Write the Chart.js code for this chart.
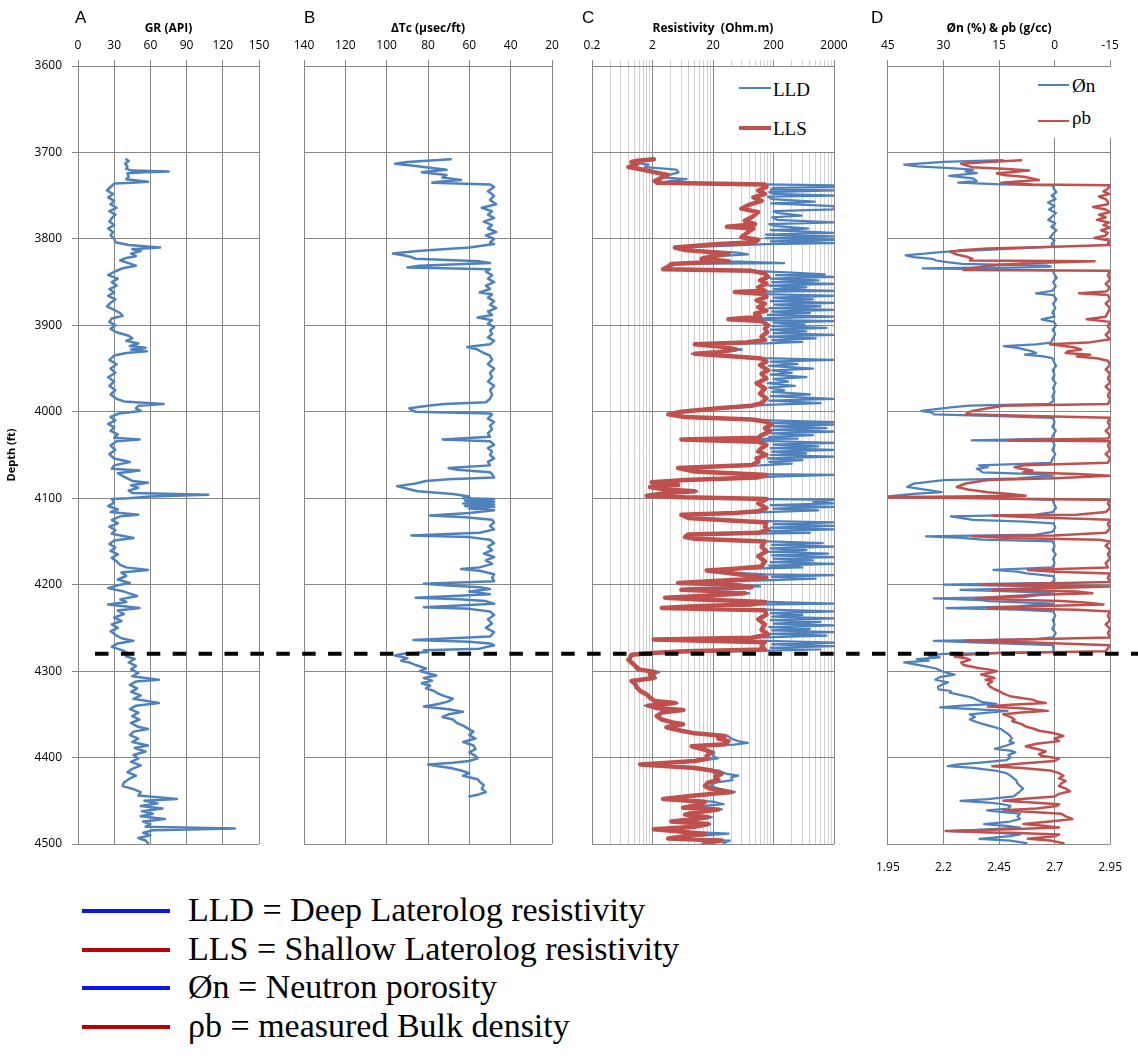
<!DOCTYPE html>
<html><head><meta charset="utf-8"><title>Well logs</title>
<script src="https://cdn.jsdelivr.net/npm/chart.js@4.4.0/dist/chart.umd.min.js"></script>
<style>
html,body{margin:0;padding:0;background:#fff}
#wrap{position:relative;width:1138px;height:1061px;overflow:hidden;background:#fff}
canvas{position:absolute;top:0}
.letter{position:absolute;top:9px;font-family:'Liberation Sans',Arial,sans-serif;font-size:17px;line-height:17px;color:#000}
.lg{position:absolute;background:#fff}
.sw{position:absolute}
.lt{position:absolute;font-family:'Liberation Serif','DejaVu Serif',serif;font-size:19px;line-height:19px;color:#000;white-space:nowrap}
.kl{position:absolute;left:82px;width:88px;height:4px}
.kt{position:absolute;left:188px;font-family:'Liberation Serif','DejaVu Serif',serif;font-size:34px;line-height:34px;color:#000;white-space:nowrap}
</style></head>
<body><div id="wrap">
<canvas id="cA" width="280" height="880" style="left:0px"></canvas>
<canvas id="cB" width="290" height="880" style="left:280px"></canvas>
<canvas id="cC" width="290" height="880" style="left:570px"></canvas>
<canvas id="cD" width="278" height="880" style="left:860px"></canvas>

<div class="letter" style="left:75px">A</div>
<div class="letter" style="left:304px">B</div>
<div class="letter" style="left:582px">C</div>
<div class="letter" style="left:871px">D</div>

<div class="lg" style="left:718px;top:67px;width:116px;height:85px"></div>
<div class="sw" style="left:739px;top:87px;width:32px;height:2px;background:#4f81bd"></div>
<div class="lt" style="left:773px;top:80px">LLD</div>
<div class="sw" style="left:739px;top:126px;width:32px;height:4px;background:#c0504d"></div>
<div class="lt" style="left:773px;top:119px">LLS</div>

<div class="lg" style="left:1025px;top:67px;width:97px;height:71px"></div>
<div class="sw" style="left:1038px;top:84px;width:31px;height:2px;background:#4f81bd"></div>
<div class="lt" style="left:1072px;top:76px">Øn</div>
<div class="sw" style="left:1038px;top:120px;width:31px;height:2px;background:#c0504d"></div>
<div class="lt" style="left:1072px;top:108px">ρb</div>

<div class="kl" style="top:909px;background:#0a14f5"></div>
<div class="kt" style="top:893px">LLD = Deep Laterolog resistivity</div>
<div class="kl" style="top:948px;background:#c00000"></div>
<div class="kt" style="top:932px">LLS = Shallow Laterolog resistivity</div>
<div class="kl" style="top:986px;background:#0a14f5"></div>
<div class="kt" style="top:970px">Øn = Neutron porosity</div>
<div class="kl" style="top:1025px;background:#c00000"></div>
<div class="kt" style="top:1009px">ρb = measured Bulk density</div>
</div>
<script>
// ---------- axis ticks ----------
const DEPTH_TICKS = [3600,3700,3800,3900,4000,4100,4200,4300,4400,4500];
const GR_TICKS = [0,30,60,90,120,150];
const DT_TICKS = [140,120,100,80,60,40,20];
const RES_LABELS = [0.2,2,20,200,2000];
const RES_MINOR = [0.4,0.6,0.8,1,1.2,1.4,1.6,1.8,4,6,8,10,12,14,16,18,40,60,80,100,120,140,160,180,400,600,800,1000,1200,1400,1600,1800];
const NPHI_TICKS = [45,30,15,0,-15];
const RHOB_TICKS = [1.95,2.2,2.45,2.7,2.95];
const CUT_DEPTH = 4280;

// ---------- series: [depth ft, value] ----------
const GR = [[3708,40],[3710,42],[3713,39],[3716,41],[3719,40],[3721,45],[3722,75],[3723,55],[3724,41],[3728,42],[3731,40],[3734,58],[3735,45],[3736,30],[3740,27],[3744,24],[3748,29],[3752,25],[3756,30],[3760,27],[3764,32],[3768,26],[3772,31],[3776,28],[3780,26],[3784,30],[3788,25],[3792,29],[3796,27],[3800,30],[3804,31],[3807,42],[3810,68],[3812,45],[3814,52],[3817,44],[3820,48],[3822,40],[3825,35],[3828,42],[3831,48],[3834,37],[3838,30],[3842,25],[3846,33],[3850,28],[3854,32],[3858,26],[3862,30],[3866,25],[3870,31],[3874,27],[3878,24],[3882,30],[3886,35],[3889,37],[3892,28],[3896,26],[3900,31],[3904,27],[3908,32],[3912,42],[3915,45],[3918,40],[3921,50],[3924,43],[3926,56],[3928,44],[3930,57],[3932,40],[3935,30],[3940,26],[3945,32],[3950,27],[3955,31],[3960,25],[3965,30],[3970,26],[3975,31],[3980,27],[3985,32],[3988,38],[3991,71],[3993,50],[3996,48],[3999,52],[4002,34],[4006,27],[4010,31],[4014,25],[4018,30],[4022,27],[4026,33],[4030,30],[4032,51],[4034,32],[4039,27],[4044,31],[4049,26],[4054,30],[4058,43],[4062,30],[4066,28],[4068,51],[4071,33],[4075,38],[4080,45],[4082,58],[4085,44],[4088,50],[4091,42],[4094,45],[4096,108],[4098,60],[4100,42],[4101,28],[4105,30],[4109,25],[4113,33],[4116,27],[4119,50],[4121,35],[4125,28],[4129,33],[4133,26],[4137,31],[4141,28],[4146,46],[4149,30],[4153,26],[4157,31],[4161,27],[4165,33],[4169,28],[4173,32],[4177,35],[4180,40],[4183,58],[4186,36],[4190,40],[4194,33],[4198,43],[4200,35],[4204,25],[4208,38],[4213,49],[4217,35],[4220,40],[4223,25],[4227,51],[4230,33],[4234,38],[4238,30],[4242,36],[4246,28],[4250,33],[4254,27],[4258,31],[4262,36],[4265,46],[4268,33],[4272,28],[4276,37],[4280,42],[4283,40],[4286,47],[4290,42],[4294,48],[4298,44],[4302,50],[4306,45],[4310,67],[4312,48],[4316,43],[4320,49],[4324,44],[4328,52],[4332,46],[4337,67],[4340,48],[4344,43],[4348,50],[4352,45],[4356,51],[4360,44],[4364,49],[4367,58],[4370,46],[4374,43],[4378,50],[4382,45],[4386,58],[4389,47],[4393,56],[4397,46],[4401,50],[4405,44],[4409,52],[4413,45],[4417,41],[4421,48],[4425,42],[4429,38],[4433,37],[4436,45],[4440,52],[4444,50],[4448,82],[4450,55],[4453,66],[4456,52],[4459,70],[4462,53],[4465,62],[4468,52],[4471,72],[4474,54],[4477,60],[4480,56],[4482,130],[4484,62],[4487,54],[4490,60],[4493,50],[4496,56],[4499,58]];

const DT = [[3708,69],[3711,90],[3713,96],[3715,88],[3716,85],[3718,78],[3720,71],[3722,80],[3723,83],[3726,71],[3729,73],[3732,64],[3734,75],[3735,78],[3737,50],[3740,48],[3745,51],[3750,48],[3755,50],[3760,47],[3764,54],[3768,49],[3772,51],[3776,48],[3780,53],[3784,49],[3788,51],[3792,47],[3796,52],[3800,48],[3804,50],[3806,48],[3810,60],[3814,85],[3817,97],[3819,92],[3821,88],[3823,86],[3826,55],[3828,50],[3831,84],[3833,90],[3835,50],[3838,52],[3842,49],[3846,51],[3850,48],[3854,52],[3858,50],[3862,55],[3864,49],[3868,51],[3872,48],[3876,50],[3880,47],[3884,51],[3888,49],[3891,56],[3894,49],[3898,51],[3902,48],[3906,50],[3910,49],[3914,51],[3918,48],[3922,50],[3925,61],[3928,56],[3932,53],[3935,50],[3940,49],[3945,51],[3950,48],[3955,50],[3960,49],[3965,51],[3970,48],[3975,50],[3980,49],[3985,50],[3989,52],[3991,72],[3993,80],[3996,89],[3998,88],[4000,86],[4002,50],[4003,49],[4008,51],[4012,48],[4016,50],[4020,49],[4025,51],[4029,50],[4032,73],[4034,50],[4038,48],[4042,51],[4046,49],[4050,50],[4054,48],[4058,51],[4062,50],[4065,70],[4067,66],[4070,50],[4072,49],[4076,48],[4078,70],[4080,81],[4083,86],[4086,95],[4089,90],[4092,85],[4095,68],[4098,60],[4100,63],[4101,48],[4103,62],[4104,48],[4106,63],[4107,48],[4109,62],[4110,48],[4112,60],[4114,48],[4117,60],[4120,79],[4122,62],[4125,49],[4128,48],[4132,50],[4136,48],[4140,55],[4143,88],[4145,60],[4148,50],[4152,48],[4156,51],[4160,49],[4164,53],[4168,48],[4172,52],[4176,49],[4180,55],[4182,64],[4184,55],[4188,48],[4192,49],[4196,48],[4199,82],[4201,70],[4203,55],[4205,50],[4208,60],[4211,50],[4215,86],[4217,65],[4219,52],[4222,48],[4226,82],[4228,60],[4231,50],[4235,48],[4240,51],[4245,49],[4250,52],[4255,48],[4260,50],[4264,87],[4266,60],[4268,50],[4270,48],[4274,55],[4276,82],[4278,80],[4280,92],[4282,96],[4285,90],[4288,93],[4290,89],[4293,86],[4297,81],[4300,84],[4303,79],[4305,76],[4308,82],[4311,78],[4314,83],[4317,79],[4320,81],[4323,77],[4326,75],[4329,72],[4332,68],[4335,70],[4338,75],[4341,82],[4344,70],[4347,63],[4350,70],[4353,73],[4356,68],[4360,66],[4363,63],[4366,61],[4370,58],[4374,60],[4378,57],[4382,63],[4386,58],[4390,57],[4394,60],[4398,57],[4401,56],[4404,60],[4406,68],[4408,80],[4410,75],[4412,69],[4415,64],[4418,60],[4421,63],[4425,56],[4428,55],[4432,53],[4436,54],[4440,52],[4443,56],[4445,60]];

const LLD = [[3708,2.2],[3710,1.4],[3712,1.1],[3714,1.7],[3717,1.5],[3720,5.0],[3723,5.4],[3726,3.8],[3729,3.2],[3731,7.3],[3733,4.2],[3735,2.9],[3737,150],[3738,2000],[3740,2000],[3741,200],[3743,180],[3744,2000],[3746,170],[3748,200],[3750,2000],[3751,160],[3754,190],[3757,960],[3759,185],[3762,2000],[3764,2000],[3766,2000],[3768,200],[3770,230],[3773,580],[3775,190],[3778,230],[3781,2000],[3783,170],[3785,210],[3788,745],[3790,180],[3793,2000],[3795,150],[3797,2000],[3799,150],[3801,2000],[3803,180],[3805,2000],[3806,150],[3808,30],[3810,5.5],[3813,8],[3816,50],[3818,76],[3820,25],[3823,15],[3826,40],[3828,300],[3829,5],[3832,4],[3835,3.2],
[3837,90],[3839,400],[3841,1400],[3842,220],[3844,2000],[3846,180],[3848,1100],[3850,190],[3852,2000],[3854,170],[3856,700],[3858,200],[3860,2000],[3861,150],[3862,46],[3864,160],[3866,2000],[3868,200],[3870,900],[3872,180],[3874,2000],[3876,210],[3878,1200],[3880,170],[3882,2000],[3884,190],[3886,800],[3888,160],[3890,2000],[3892,120],[3893,40],[3895,2000],[3897,200],[3899,650],[3901,190],[3903,1500],[3905,180],[3907,700],[3909,200],[3911,2000],[3913,170],[3915,1000],[3917,190],[3919,600],[3921,150],
[3922,10],[3925,35],[3928,60],[3931,28],[3933,9],[3936,50],[3938,140],
[3940,2000],[3942,180],[3945,500],[3947,170],[3950,900],[3952,190],[3955,400],[3957,180],[3960,700],[3962,200],[3965,350],[3967,160],[3970,450],[3972,170],[3975,300],[3977,190],[3980,800],[3982,180],[3985,2000],[3987,170],[3990,1200],[3992,150],
[3994,60],[3996,20],[4000,6],[4003,3.8],[4006,7],[4008,40],[4010,170],
[4012,2000],[4013,190],[4015,2000],[4017,200],[4019,1500],[4021,180],[4023,2000],[4025,190],[4027,900],[4029,170],[4031,500],[4032,6],[4034,190],[4036,2000],[4038,200],[4040,1100],[4042,180],[4044,2000],[4046,190],[4048,700],[4050,180],[4052,2000],[4054,160],[4056,600],[4058,170],[4060,400],[4062,120],[4065,5.5],[4069,11],[4072,150],[4073,2000],[4075,200],[4077,60],
[4080,6],[4082,2.0],[4085,5],[4087,1.9],[4090,4],[4092,11],[4094,4],[4097,1.7],[4099,8],[4101,160],
[4102,2000],[4104,900],[4106,2000],[4108,180],[4110,2000],[4112,200],[4114,1100],[4116,150],
[4119,6.5],[4123,8.5],[4126,60],
[4128,2000],[4130,200],[4132,2000],[4134,180],[4136,2000],[4138,170],[4140,800],
[4142,8],[4145,7],[4147,11],[4150,170],
[4152,1300],[4154,190],[4156,2000],[4158,180],[4160,700],[4162,170],[4164,1600],[4166,190],[4168,2000],[4170,200],[4172,900],[4174,180],[4176,2000],[4178,170],[4180,600],
[4182,40],[4184,16],[4186,40],[4188,150],
[4189,2000],[4191,190],[4193,1000],[4195,150],
[4197,8],[4198,5.5],[4200,50],[4202,120],[4204,9],[4206,6.2],[4208,40],[4210,80],[4212,15],[4215,3.4],[4217,12],[4220,170],[4222,2000],[4223,100],[4225,12],[4227,3.0],[4229,160],
[4231,2000],[4233,180],[4235,600],[4237,190],[4239,2000],[4241,180],[4243,1200],[4245,200],[4247,2000],[4249,170],[4251,800],[4253,190],[4255,2000],[4257,180],[4259,1500],[4261,150],[4263,2.2],[4265,150],[4267,2000],[4269,190],[4271,2000],[4273,180],[4275,1200],[4277,60],[4279,2.0],
[4281,0.95],[4284,0.88],[4287,0.85],[4290,0.95],[4294,1.1],[4298,1.3],[4301,2.6],[4304,2.1],[4308,2.3],[4311,0.95],[4315,1.05],[4319,1.15],[4323,1.35],[4327,1.7],[4331,1.9],[4335,2.4],[4337,5.2],[4340,1.5],[4343,2.6],[4345,6.8],[4348,2.8],[4352,2.5],[4356,2.9],[4359,4.3],[4362,6.5],[4365,3.5],[4369,6.2],[4372,11],[4375,35],[4378,40],[4381,52],[4383,75],[4385,45],[4387,10],[4391,15],[4394,21],[4398,20],[4401,24],[4404,11],[4406,3],[4408,1.3],[4410,3],[4412,11],[4415,25],[4419,34],[4421,52],[4423,40],[4426,42],[4429,22],[4433,18],[4436,25],[4440,46],[4444,12],[4448,3.2],[4451,20],[4454,30],[4458,7],[4460,28],[4463,12],[4466,7.5],[4469,19],[4472,9],[4474,4.4],[4477,18],[4480,12],[4483,2.2],[4486,8],[4488,36],[4491,10],[4494,3.5],[4496,38],[4499,30]];

const LLS = [[3708,2.1],[3710,1.04],[3711,0.9],[3714,1.1],[3717,0.8],[3720,1.4],[3723,2.2],[3726,3.6],[3729,2.85],[3733,2.2],[3735,2.35],[3737,144],[3740,153],[3744,112],[3748,144],[3752,93],[3756,127],[3761,76],[3765,59],[3769,112],[3775,87],[3779,67],[3783,99],[3786,34],[3788,93],[3792,76],[3798,59],[3801,112],[3804,99],[3806,24.5],[3810,4.7],[3813,6.9],[3817,36],[3820,19],[3823,13],[3826,36],[3829,4.1],[3832,3.65],[3835,3.0],[3837,87],[3840,144],[3844,163],[3848,120],[3852,153],[3856,112],[3860,144],[3861.5,46],[3863.5,127],[3867,153],[3871,105],[3875,144],[3879,112],[3883,153],[3886.5,99],[3890,120],[3893,36],[3895,127],[3900,163],[3904,144],[3908,158],[3913,127],[3917,144],[3920,67],[3922,10],[3925,31.5],[3928,46],[3931,24.5],[3933,10],[3936,46],[3938.5,127],[3942,153],[3946,120],[3952,163],[3956,127],[3961.5,153],[3967,105],[3973,144],[3979,120],[3984.6,153],[3990,127],[3993,87],[3996,24.5],[4000,6],[4003,3.65],[4006,6.9],[4009,87],[4011.5,153],[4015,185],[4019,144],[4023,174],[4027,127],[4030,112],[4032,6.0],[4034.6,112],[4038.5,153],[4042,127],[4046,112],[4050,153],[4054,105],[4057.7,112],[4061.5,87],[4065,5.3],[4069,10],[4073,153],[4076,112],[4079,6.9],[4081.5,1.95],[4084.6,5.3],[4087,1.83],[4090,3.23],[4092,10],[4094,3.65],[4097,1.6],[4099,6.9],[4101,153],[4106,112],[4111.5,153],[4115,112],[4117,46],[4119,6.0],[4123,7.8],[4126,46],[4128,153],[4133,144],[4136.5,163],[4140,112],[4142,7.8],[4145,6.9],[4147,10],[4150,144],[4156,127],[4161.5,153],[4167,112],[4173,144],[4179,127],[4181.5,46],[4183.5,15.7],[4186.5,36],[4190,87],[4192,153],[4195,36],[4198,5.3],[4200,46],[4203,87],[4206,6.0],[4208,31.5],[4210,67],[4213,13],[4215,3.23],[4217,10],[4220,144],[4223,87],[4225,10],[4227,2.85],[4229.6,144],[4234.6,153],[4240,112],[4246,144],[4252,127],[4257.7,163],[4261.5,87],[4263.5,2.1],[4266.5,144],[4271,127],[4275,144],[4277,6.9],[4279,1.95],[4281,0.9],[4284.6,0.85],[4287,0.8],[4290,0.9],[4294,1.04],[4298,1.17],[4301,2.2],[4304,1.83],[4308,2.08],[4311.5,0.9],[4315,1.04],[4319,1.1],[4323,1.25],[4327,1.61],[4331,1.83],[4334.6,2.2],[4337,4.7],[4340,1.7],[4343,2.5],[4345,6.4],[4348,2.85],[4352,2.35],[4356,2.85],[4359,4.1],[4361.5,6.4],[4365,3.4],[4369,6.0],[4372,10],[4375,31.5],[4378,24.5],[4381,36],[4384.6,31.5],[4387,8.9],[4391,14.7],[4394,19],[4398,15.7],[4401,16.6],[4404,10],[4406,3.65],[4408,1.25],[4410,3.65],[4412,10],[4415,19],[4419,27.8],[4422,22],[4426,24.5],[4429,16.6],[4433,14.7],[4436.5,19],[4440,40.6],[4444,10],[4448,3.0],[4451,14.7],[4454,13],[4458,6.4],[4460,24.5],[4463.5,10],[4466,6.9],[4469,16.6],[4472,7.8],[4474,4.1],[4477,16.6],[4480,10],[4483,2.1],[4486,6.9],[4488.5,14.7],[4491,6.9],[4493.5,3.65],[4496,27.8],[4499,14]];

const NPHI = [[3709,14],[3711,30],[3714,40.6],[3716,37],[3718,28],[3720,22],[3722,24],[3724,21],[3727,28.4],[3730,22],[3733,21],[3735,26],[3737,14.5],[3738,0.5],[3742,0.2],[3746,-0.5],[3750,0.8],[3754,-0.3],[3758,1.8],[3762,0.0],[3766,1.5],[3770,-0.4],[3774,0.6],[3778,1.7],[3782,-0.2],[3786,0.9],[3790,-0.5],[3794,0.4],[3798,1.2],[3802,0.0],[3806,0.8],[3809,0],[3811,10],[3815,30],[3819,40.2],[3821,38],[3823,33],[3825,32],[3827,29],[3829,25],[3831,2],[3832,1],[3834,35.6],[3835,20],[3836,0.5],[3840,0.2],[3845,-0.6],[3850,0.4],[3855,-0.3],[3860,0.6],[3863,5.0],[3865,0.3],[3870,-0.5],[3875,0.4],[3880,-0.2],[3885,0.6],[3890,0.0],[3893,3.5],[3896,0.2],[3900,-0.4],[3905,0.5],[3910,-0.2],[3915,0.4],[3920,1.0],[3922,5],[3924,13.7],[3926,10],[3928,8],[3930,6],[3932,5],[3934,8],[3936,3],[3938,0.6],[3942,0.2],[3947,-0.4],[3952,0.5],[3957,0.0],[3962,0.6],[3967,-0.3],[3972,0.4],[3977,0.0],[3982,0.6],[3987,0.2],[3991,1.5],[3993,23],[3995,28],[3999,36],[4001,33],[4003,32.6],[4005,15],[4007,0.5],[4012,0.0],[4017,0.6],[4022,-0.3],[4027,0.4],[4031,0.8],[4033,22.4],[4034,0.5],[4039,0.0],[4044,0.6],[4049,-0.2],[4054,0.5],[4059,1.0],[4062,20.4],[4064,18],[4066,21],[4068,20],[4070,19.5],[4072,5],[4074,0.5],[4077,10],[4079,30],[4083,38],[4087,39.8],[4090,35],[4093,30.5],[4095,38],[4098,45],[4100,20],[4102,0.5],[4106,0.2],[4111,-0.4],[4116,0.5],[4119,5],[4121,28],[4123,25],[4125,22],[4127,8],[4129,0.3],[4134,-0.2],[4139,0.6],[4142,5],[4144,34.7],[4146,25],[4148,19.5],[4150,0.5],[4155,0.0],[4160,0.5],[4165,-0.3],[4170,0.4],[4175,0.0],[4180,0.6],[4183,16.5],[4185,10],[4187,7.6],[4190,0.3],[4195,0.0],[4198,1],[4200,30],[4202,0.5],[4204,5],[4206,25.4],[4208,10],[4210,0.4],[4214,8],[4216,32.6],[4218,20],[4219,17.8],[4222,0.3],[4225,10],[4227,29.2],[4229,10],[4231,0.4],[4236,-0.2],[4241,0.5],[4246,0.0],[4251,0.6],[4256,-0.3],[4261,0.4],[4263,5],[4265,32.6],[4267,20],[4270,0.5],[4275,0.2],[4278,0.6],[4280,30],[4282,34],[4284,31],[4286,37.2],[4288,34],[4290,40.6],[4292,38],[4294,35.5],[4297,32],[4300,30.5],[4302,29],[4304,27],[4307,31],[4310,32.2],[4313,28.8],[4315,30],[4318,31.5],[4321,31.3],[4323,28],[4325,28.3],[4328,25],[4331,22],[4334,20.5],[4336,19.5],[4338,15.7],[4340,25],[4342,30.9],[4344,22],[4346,12.7],[4348,18],[4350,22.9],[4353,21.5],[4356,22.9],[4359,21],[4361,19.5],[4364,17],[4367,14.5],[4370,13.5],[4373,12.5],[4375,12],[4378,11.5],[4381,12.2],[4383,11],[4386,13],[4390,16.1],[4392,12],[4394,10.6],[4397,12.5],[4400,11.9],[4403,13],[4406,20],[4408,26],[4410,28.8],[4412,22],[4415,16.1],[4418,13],[4421,11.9],[4424,11],[4427,10.2],[4429,10.2],[4432,9.5],[4434,9],[4436,8.5],[4439,9.3],[4442,10.2],[4445,11],[4448,18],[4450,25.4],[4452,18],[4454,14],[4456,11.9],[4459,12.5],[4461,18.2],[4463,14],[4465,9.3],[4468,10],[4471,9.3],[4474,12],[4477,19.0],[4479,13],[4481,9.3],[4483,18],[4485,28],[4487,15],[4489,9.3],[4491,12],[4494,20.3],[4496,12],[4499,7.6]];

const RHOB = [[3709,2.55],[3711,2.40],[3713,2.28],[3715,2.30],[3717,2.33],[3719,2.47],[3721,2.585],[3723,2.50],[3724,2.44],[3726,2.47],[3728,2.56],[3730,2.60],[3732,2.63],[3734,2.52],[3735,2.46],[3737,2.60],[3738,2.95],[3742,2.94],[3745,2.92],[3748,2.945],[3751,2.90],[3754,2.93],[3757,2.94],[3760,2.94],[3763,2.873],[3766,2.93],[3769,2.95],[3772,2.90],[3775,2.93],[3778,2.89],[3781,2.945],[3784,2.92],[3787,2.95],[3790,2.91],[3793,2.94],[3796,2.93],[3799,2.88],[3802,2.95],[3805,2.94],[3807,2.95],[3809,2.70],[3811,2.40],[3813,2.28],[3815,2.23],[3818,2.26],[3821,2.31],[3823,2.33],[3825,2.32],[3826,2.88],[3828,2.60],[3830,2.45],[3831,2.40],[3833,2.35],[3835,2.30],[3836,2.29],[3837,2.95],[3842,2.94],[3847,2.95],[3852,2.93],[3857,2.95],[3861,2.93],[3863,2.81],[3865,2.94],[3870,2.95],[3875,2.93],[3880,2.95],[3885,2.94],[3890,2.93],[3893,2.845],[3896,2.95],[3901,2.94],[3906,2.95],[3911,2.93],[3916,2.95],[3920,2.85],[3922,2.68],[3925,2.78],[3928,2.82],[3930,2.76],[3932,2.75],[3934,2.86],[3936,2.80],[3938,2.89],[3941,2.94],[3946,2.95],[3951,2.93],[3956,2.95],[3961,2.94],[3966,2.95],[3971,2.93],[3976,2.95],[3981,2.94],[3986,2.95],[3991,2.94],[3993,2.47],[3996,2.40],[3999,2.33],[4001,2.31],[4003,2.30],[4005,2.60],[4007,2.95],[4012,2.94],[4017,2.95],[4022,2.93],[4027,2.95],[4031,2.94],[4033,2.49],[4034,2.95],[4039,2.94],[4044,2.95],[4049,2.93],[4054,2.95],[4059,2.94],[4062,2.56],[4064,2.52],[4066,2.55],[4068,2.60],[4070,2.56],[4072,2.80],[4074,2.95],[4077,2.70],[4079,2.40],[4083,2.30],[4087,2.26],[4090,2.31],[4093,2.40],[4095,2.50],[4097,2.57],[4099,1.95],[4100,2.40],[4102,2.95],[4106,2.94],[4111,2.95],[4116,2.93],[4119,2.80],[4120,2.42],[4122,2.60],[4124,2.85],[4125,2.95],[4130,2.94],[4135,2.95],[4140,2.93],[4143,2.70],[4144,2.33],[4146,2.50],[4148,2.90],[4150,2.95],[4155,2.93],[4160,2.95],[4165,2.94],[4170,2.95],[4175,2.93],[4180,2.94],[4183,2.58],[4185,2.70],[4187,2.95],[4192,2.94],[4197,2.95],[4200,2.37],[4202,2.95],[4204,2.70],[4206,2.42],[4208,2.80],[4210,2.87],[4212,2.60],[4214,2.45],[4216,2.34],[4218,2.60],[4219,2.73],[4221,2.85],[4223,2.92],[4225,2.60],[4227,2.40],[4229,2.80],[4231,2.95],[4236,2.94],[4241,2.95],[4246,2.93],[4251,2.95],[4256,2.94],[4261,2.95],[4263,2.60],[4265,2.30],[4267,2.60],[4270,2.95],[4274,2.94],[4277,2.93],[4279,2.44],[4281,2.30],[4283,2.25],[4285,2.30],[4287,2.32],[4290,2.28],[4293,2.29],[4296,2.35],[4298,2.40],[4300,2.44],[4302,2.41],[4304,2.37],[4306,2.40],[4308,2.43],[4310,2.39],[4312,2.42],[4315,2.40],[4318,2.41],[4321,2.43],[4323,2.45],[4326,2.47],[4329,2.50],[4331,2.55],[4333,2.60],[4335,2.62],[4337,2.66],[4339,2.50],[4341,2.40],[4343,2.55],[4346,2.67],[4348,2.55],[4350,2.47],[4353,2.50],[4356,2.52],[4358,2.51],[4361,2.55],[4364,2.57],[4367,2.61],[4369,2.63],[4372,2.70],[4375,2.74],[4378,2.70],[4381,2.72],[4384,2.62],[4387,2.57],[4390,2.62],[4393,2.66],[4396,2.63],[4398,2.64],[4401,2.72],[4404,2.70],[4407,2.55],[4410,2.42],[4412,2.55],[4415,2.68],[4418,2.72],[4421,2.74],[4424,2.72],[4427,2.75],[4430,2.73],[4433,2.72],[4436,2.75],[4439,2.77],[4442,2.72],[4445,2.70],[4448,2.55],[4450,2.47],[4452,2.60],[4454,2.72],[4456,2.71],[4459,2.62],[4461,2.47],[4463,2.60],[4465,2.73],[4468,2.75],[4471,2.78],[4474,2.68],[4477,2.56],[4479,2.65],[4481,2.72],[4483,2.50],[4485,2.21],[4487,2.50],[4489,2.72],[4491,2.70],[4494,2.58],[4496,2.68],[4499,2.74]];

// ---------- styling ----------
const GRID = '#878787';
const MINOR = '#d0d0d0';
const BLUE = '#4f81bd';
const RED = '#c0504d';
Chart.defaults.font.family = "'Open Sans', 'Liberation Sans', sans-serif";
Chart.defaults.color = '#000';

const cutLine = {
  id: 'cutLine',
  afterDatasetsDraw(chart, args, opts) {
    const y = chart.scales.y.getPixelForValue(CUT_DEPTH);
    const ctx = chart.ctx;
    ctx.save();
    ctx.strokeStyle = '#000';
    ctx.lineWidth = 4;
    ctx.setLineDash([13.5, 12.4]);
    ctx.lineDashOffset = opts.left + opts.x0 - 95;
    ctx.beginPath();
    ctx.moveTo(opts.x0, y);
    ctx.lineTo(chart.width, y);
    ctx.stroke();
    ctx.restore();
  }
};

function series(pairs, color, width, extra) {
  return Object.assign({
    data: pairs.map(p => ({x: p[1], y: p[0]})),
    showLine: true, borderColor: color, backgroundColor: color,
    borderWidth: width, pointRadius: 0, pointHoverRadius: 0, tension: 0,
    borderJoinStyle: 'round', borderCapStyle: 'round'
  }, extra || {});
}

function yAxis(main) {
  return {
    type: 'linear', min: 3600, max: 4500, reverse: true,
    afterBuildTicks: s => { s.ticks = DEPTH_TICKS.map(v => ({value: v})); },
    afterFit: s => { s.width = main ? 78 : 0; },
    grid: {color: GRID, drawTicks: main, tickLength: 6},
    border: {display: true, color: GRID},
    ticks: {display: main, padding: 10, color: '#000', font: {size: 12}, callback: v => String(v)},
    title: {display: main, text: 'Depth (ft)', color: '#000', font: {size: 11, weight: 'bold'}, padding: {top: 5, bottom: 0}}
  };
}

function topAxis(o) {
  return Object.assign({
    type: 'linear', position: 'top',
    afterBuildTicks: s => { s.ticks = o.ticks.map(v => ({value: v})); },
    afterFit: s => { s.height = 66; },
    grid: {color: GRID, tickLength: 6},
    border: {display: true, color: GRID},
    ticks: {color: '#000', font: {size: 12}, padding: 7, maxRotation: 0, minRotation: 0, autoSkip: false, callback: o.label || (v => String(v))},
    title: {display: true, text: o.title, color: '#000', font: {size: 12, weight: 'bold'}, padding: {top: 21, bottom: 0}}
  }, o.extra || {});
}

function panel(id, left, padding, scales, datasets, x0) {
  return new Chart(document.getElementById(id), {
    type: 'scatter',
    data: {datasets},
    options: {
      responsive: false, animation: false, events: [],
      layout: {padding},
      plugins: {legend: {display: false}, tooltip: {enabled: false}, cutLine: {left, x0}},
      scales
    },
    plugins: [cutLine]
  });
}

// Panel A: GR
panel('cA', 0, {left: 0, right: 21, top: 0, bottom: 36}, {
  x: topAxis({ticks: GR_TICKS, title: 'GR (API)', extra: {min: 0, max: 150}}),
  y: yAxis(true)
}, [series(GR, BLUE, 2.5)], 95);

// Panel B: Sonic
panel('cB', 280, {left: 24, right: 18, top: 0, bottom: 36}, {
  x: topAxis({ticks: DT_TICKS, title: 'ΔTc (µsec/ft)', extra: {min: 20, max: 140, reverse: true}}),
  y: yAxis(false)
}, [series(DT, BLUE, 2.5)], 0);

// Panel C: Resistivity (log)
const RES_ALL = RES_LABELS.concat(RES_MINOR).sort((a, b) => a - b);
const resAxis = topAxis({
  ticks: RES_ALL, title: 'Resistivity  (Ohm.m)',
  label: v => RES_LABELS.includes(v) ? String(v) : '',
  extra: {type: 'logarithmic', min: 0.2, max: 2000}
});
resAxis.grid = {color: c => (c.tick && RES_LABELS.includes(c.tick.value)) ? GRID : MINOR, tickLength: 6};
panel('cC', 570, {left: 22, right: 26, top: 0, bottom: 36}, {
  x: resAxis,
  y: yAxis(false)
}, [
  series(LLD, BLUE, 2.25, {order: 1}),
  series(LLS, RED, 4.5, {order: 0})
], 0);

// Panel D: Neutron porosity & bulk density
panel('cD', 860, {left: 24, right: 16, top: 0, bottom: 0}, {
  x: topAxis({ticks: NPHI_TICKS, title: 'Øn (%) & ρb (g/cc)', extra: {min: -15, max: 45, reverse: true}}),
  x2: {
    type: 'linear', position: 'bottom', min: 1.95, max: 2.95,
    afterBuildTicks: s => { s.ticks = RHOB_TICKS.map(v => ({value: v})); },
    afterFit: s => { s.height = 36; },
    grid: {display: false, drawTicks: false},
    border: {display: false},
    ticks: {color: '#000', font: {size: 12}, padding: 16, maxRotation: 0, autoSkip: false, callback: v => String(v)}
  },
  y: yAxis(false)
}, [
  series(NPHI, BLUE, 2.25, {xAxisID: 'x', order: 1}),
  series(RHOB, RED, 2.5, {xAxisID: 'x2', order: 0})
], 0);
</script>
</body></html>
